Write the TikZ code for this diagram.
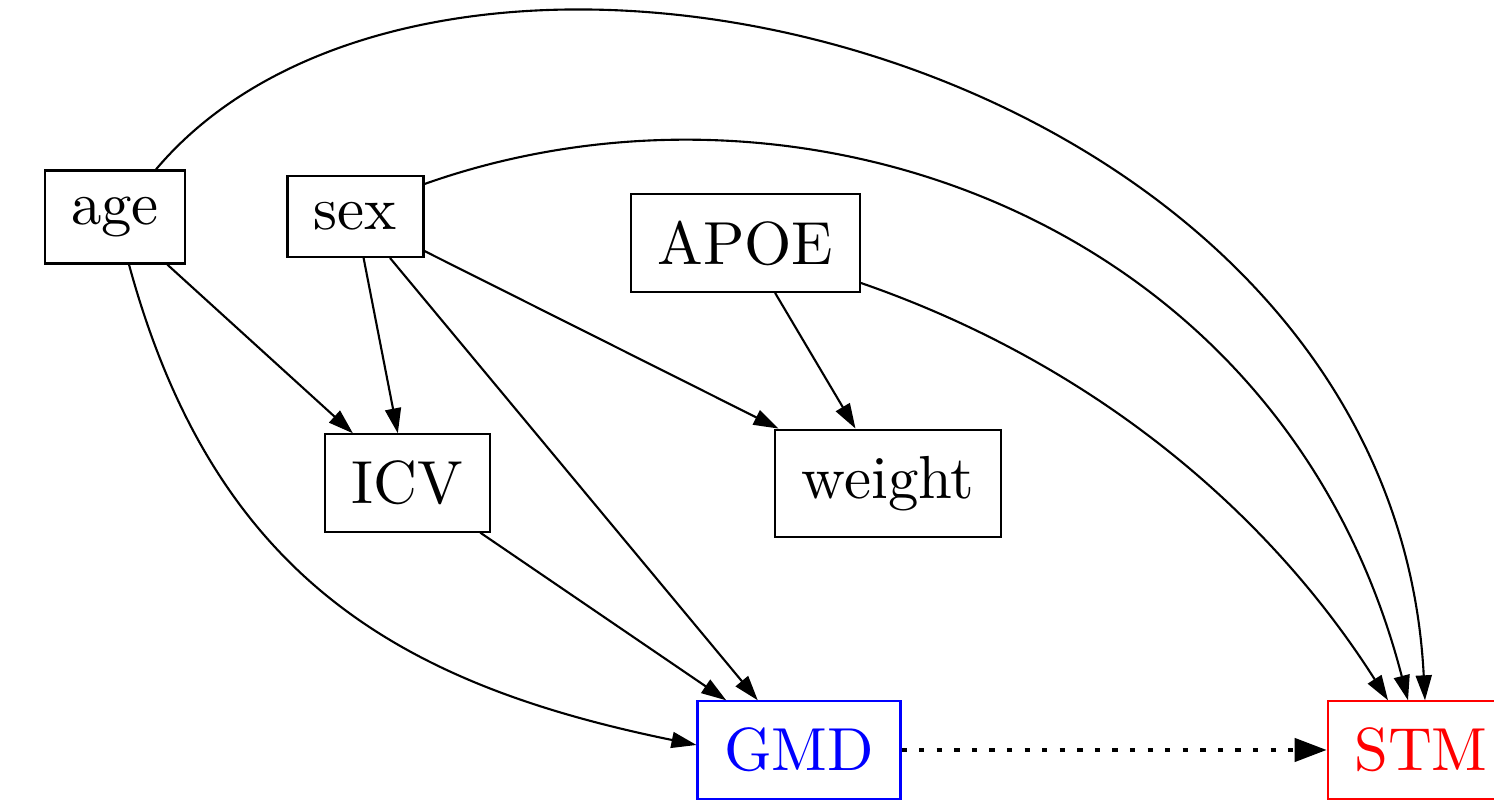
\documentclass[tikz,border=0pt]{standalone}
\usepackage{xcolor}
\usepackage{graphicx}
\usepackage{tikz}
\usetikzlibrary{arrows.meta, positioning, calc}
\newcommand{\varname}[1]{\scalebox{1.73}{#1}}

\begin{document}
\begin{tikzpicture}[
    var/.style={rectangle, draw, line width=0.6pt, inner sep=0.265cm},
    arr/.style={-{Triangle[length=0.25cm, width=0.16cm]}, line width=0.6pt},
    dotarr/.style={-{Triangle[length=0.32cm, width=0.23cm]}, line width=1.2pt,
                   dash pattern=on 1.5pt off 3.5pt}
  ]
  \useasboundingbox (0,0) rectangle (14.94,8.09);

  % variables
  \node[var] (age) at (1.15, 5.92) {\varname{age}};
  \node[var] (sex) at (3.555, 5.925) {\varname{sex}};
  \node[var] (apoe) at (7.455, 5.66) {\varname{APOE}};
  \node[var] (icv) at (4.075, 3.26) {\varname{ICV}};
  \node[var] (weight) at (8.88, 3.255) {\varname{weight}};
  \node[var, draw=blue, text=blue] (gmd) at (7.99, 0.59) {\varname{GMD}};
  \node[var, draw=red, text=red] (stm) at (14.21, 0.59) {\varname{STM}};

  % straight paths
  \foreach \a/\b in {age/icv, sex/icv, sex/gmd, sex/weight, apoe/weight, icv/gmd}
    \draw[arr] (\a) -- (\b);

  % curved paths
  \draw[arr] ([xshift=0.14cm]age.south) .. controls (2.15,2.29) and (4.03,1.24) .. ([yshift=0.05cm]gmd.west);
  \draw[arr] ([xshift=0.41cm]age.north) .. controls (4.45,9.82) and (13.92,7.57) .. ([xshift=0.04cm]stm.north);
  \draw[arr] ([yshift=-0.09cm]sex.north east) .. controls (8.00,7.58) and (12.83,5.91) .. ([xshift=-0.13cm]stm.north);
  \draw[arr] ([yshift=0.1cm]apoe.south east) .. controls (10.98,4.44) and (12.71,2.93) .. ([xshift=-0.33cm]stm.north);

  % GMD to STM
  \draw[dotarr] (gmd) -- (stm);
\end{tikzpicture}
\end{document}
